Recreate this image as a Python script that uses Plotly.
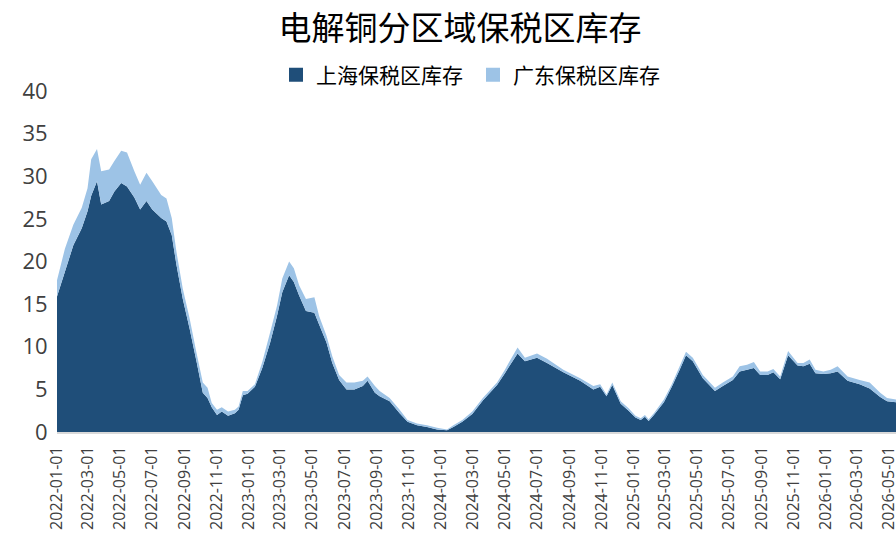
import plotly.graph_objects as go

dates = [
    "2022-01-01", "2022-01-16", "2022-02-01", "2022-02-17", "2022-02-28", "2022-03-07",
    "2022-03-18", "2022-03-26", "2022-04-10", "2022-04-20", "2022-05-03", "2022-05-14",
    "2022-05-28", "2022-06-08", "2022-06-20", "2022-07-01", "2022-07-18", "2022-07-28",
    "2022-08-07", "2022-08-16", "2022-08-28", "2022-09-10", "2022-09-23", "2022-10-05",
    "2022-10-14", "2022-10-22", "2022-11-01", "2022-11-10", "2022-11-22", "2022-12-05",
    "2022-12-12", "2022-12-20", "2022-12-29", "2023-01-12", "2023-01-26", "2023-02-10",
    "2023-02-23", "2023-03-05", "2023-03-18", "2023-03-27", "2023-04-06", "2023-04-19",
    "2023-05-05", "2023-05-14", "2023-05-28", "2023-06-08", "2023-06-21", "2023-07-05",
    "2023-07-20", "2023-08-05", "2023-08-14", "2023-08-28", "2023-09-06", "2023-09-25",
    "2023-10-14", "2023-10-29", "2023-11-16", "2023-12-05", "2023-12-24", "2024-01-12",
    "2024-01-24", "2024-02-10", "2024-02-29", "2024-03-20", "2024-04-16", "2024-05-01",
    "2024-05-08", "2024-05-25", "2024-06-08", "2024-07-01", "2024-07-20", "2024-08-20",
    "2024-09-21", "2024-10-16", "2024-10-29", "2024-11-10", "2024-11-21", "2024-12-07",
    "2024-12-22", "2025-01-04", "2025-01-14", "2025-01-22", "2025-01-29", "2025-02-08",
    "2025-02-27", "2025-03-14", "2025-03-29", "2025-04-10", "2025-04-23", "2025-05-12",
    "2025-06-04", "2025-06-19", "2025-07-08", "2025-07-21", "2025-08-04", "2025-08-17",
    "2025-08-29", "2025-09-12", "2025-09-23", "2025-10-06", "2025-10-21", "2025-11-08",
    "2025-11-19", "2025-12-01", "2025-12-12", "2025-12-27", "2026-01-10", "2026-01-23",
    "2026-02-11", "2026-03-06", "2026-03-25", "2026-04-14", "2026-04-27", "2026-05-14",
]

# 上海保税区库存 (万吨)
shanghai = [
    15.9, 18.8, 21.9, 23.9, 25.9, 27.7,
    29.4, 26.7, 27.1, 28.2, 29.2, 28.8,
    27.5, 26.1, 27.1, 26.1, 25.1, 24.7,
    23.1, 19.6, 15.6, 12.1, 8.3, 4.6,
    4.0, 2.9, 2.0, 2.4, 1.9, 2.2,
    2.6, 4.3, 4.5, 5.3, 7.5, 10.5,
    13.6, 16.4, 18.4, 17.6, 16.0, 14.2,
    14.0, 12.6, 10.5, 8.1, 6.1, 5.0,
    5.0, 5.4, 6.0, 4.6, 4.2, 3.6,
    2.2, 1.2, 0.8, 0.6, 0.3, 0.2,
    0.6, 1.2, 2.1, 3.7, 5.5, 6.9,
    7.6, 9.2, 8.3, 8.7, 8.1, 7.0,
    6.0, 5.0, 5.3, 4.2, 5.5, 3.3,
    2.5, 1.7, 1.4, 1.8, 1.3, 2.0,
    3.5, 5.3, 7.3, 9.0, 8.3, 6.3,
    4.8, 5.4, 6.1, 7.1, 7.3, 7.5,
    6.7, 6.7, 7.0, 6.2, 9.0, 7.8,
    7.7, 8.0, 6.9, 6.8, 6.9, 7.1,
    6.0, 5.6, 5.1, 4.1, 3.6, 3.5,
]

# 广东保税区库存 (万吨)
guangdong = [
    1.9, 2.7, 2.4, 2.4, 2.7, 4.3,
    3.8, 3.9, 3.7, 3.6, 3.8, 4.0,
    3.1, 2.9, 3.3, 3.3, 2.7, 2.7,
    2.0, 1.5, 1.2, 1.2, 1.0, 1.2,
    1.2, 0.5, 0.6, 0.5, 0.5, 0.4,
    0.4, 0.5, 0.3, 0.3, 0.7, 1.2,
    1.2, 1.6, 1.6, 1.6, 1.2, 1.4,
    1.8, 1.0, 0.8, 0.8, 0.6, 0.8,
    0.8, 0.6, 0.5, 0.8, 0.6, 0.4,
    0.4, 0.2, 0.2, 0.2, 0.2, 0.1,
    0.2, 0.2, 0.3, 0.3, 0.3, 0.4,
    0.5, 0.7, 0.4, 0.5, 0.5, 0.3,
    0.3, 0.4, 0.3, 0.2, 0.3, 0.3,
    0.3, 0.2, 0.2, 0.2, 0.2, 0.2,
    0.3, 0.3, 0.4, 0.4, 0.4, 0.4,
    0.4, 0.4, 0.4, 0.6, 0.6, 0.7,
    0.4, 0.4, 0.4, 0.3, 0.5, 0.3,
    0.4, 0.5, 0.4, 0.3, 0.4, 0.6,
    0.5, 0.5, 0.7, 0.5, 0.4, 0.3,
]

tick_dates = [f"{y}-{m:02d}-01" for y in range(2022, 2027) for m in (1, 3, 5, 7, 9, 11)]
tick_dates = [d for d in tick_dates if d <= "2026-05-01"]

colors = {"上海保税区库存": "#1F4E79", "广东保税区库存": "#9DC3E6"}

fig = go.Figure()
fig.add_trace(go.Scatter(x=dates, y=shanghai, name="上海保税区库存", mode="none",
                         stackgroup="one", fillcolor=colors["上海保税区库存"], showlegend=False))
fig.add_trace(go.Scatter(x=dates, y=guangdong, name="广东保税区库存", mode="none",
                         stackgroup="one", fillcolor=colors["广东保税区库存"], showlegend=False))

# legend entries with square swatches
for name, c in colors.items():
    fig.add_trace(go.Scatter(x=[None], y=[None], mode="markers", name=name,
                             marker=dict(symbol="square", size=14, color=c)))

fig.update_layout(
    width=896, height=544,
    margin=dict(l=57, r=0, t=91, b=112, autoexpand=False),
    paper_bgcolor="white", plot_bgcolor="white",
    font=dict(family="Noto Sans CJK SC", color="#404040"),
    title=dict(text="电解铜分区域保税区库存", x=460 / 896, xanchor="center",
               y=1 - 28 / 544, yanchor="middle",
               font=dict(size=33, color="#000000")),
    legend=dict(orientation="h", x=(276 - 57) / 839, xanchor="left", y=1 + 16 / 341, yanchor="middle",
                font=dict(size=21, color="#000000"), itemwidth=30, traceorder="normal",
                entrywidth=152, entrywidthmode="pixels"),
    showlegend=True,
)

fig.update_xaxes(type="date", range=["2022-01-01", "2026-05-14"],
                 tickvals=tick_dates, tickformat="%Y-%m-%d", tickangle=-90,
                 tickfont=dict(family="Open Sans", size=16, color="#404040"),
                 ticklabeloverflow="allow",
                 showgrid=False, showline=True, linecolor="#d9d9d9", linewidth=2,
                 ticks="outside", ticklen=6, tickcolor="rgba(0,0,0,0)",
                 zeroline=False, automargin=False)
fig.update_yaxes(range=[0, 40], dtick=5, showgrid=False, zeroline=False,
                 tickfont=dict(family="Open Sans", size=22, color="#404040"),
                 ticks="outside", ticklen=4, tickcolor="rgba(0,0,0,0)",
                 showline=False, automargin=False)

# drop the default 8px page margin so the figure fills the window exactly
fig.write_html("out.html", config={"displayModeBar": False},
               post_script="document.body.style.margin='0';")
